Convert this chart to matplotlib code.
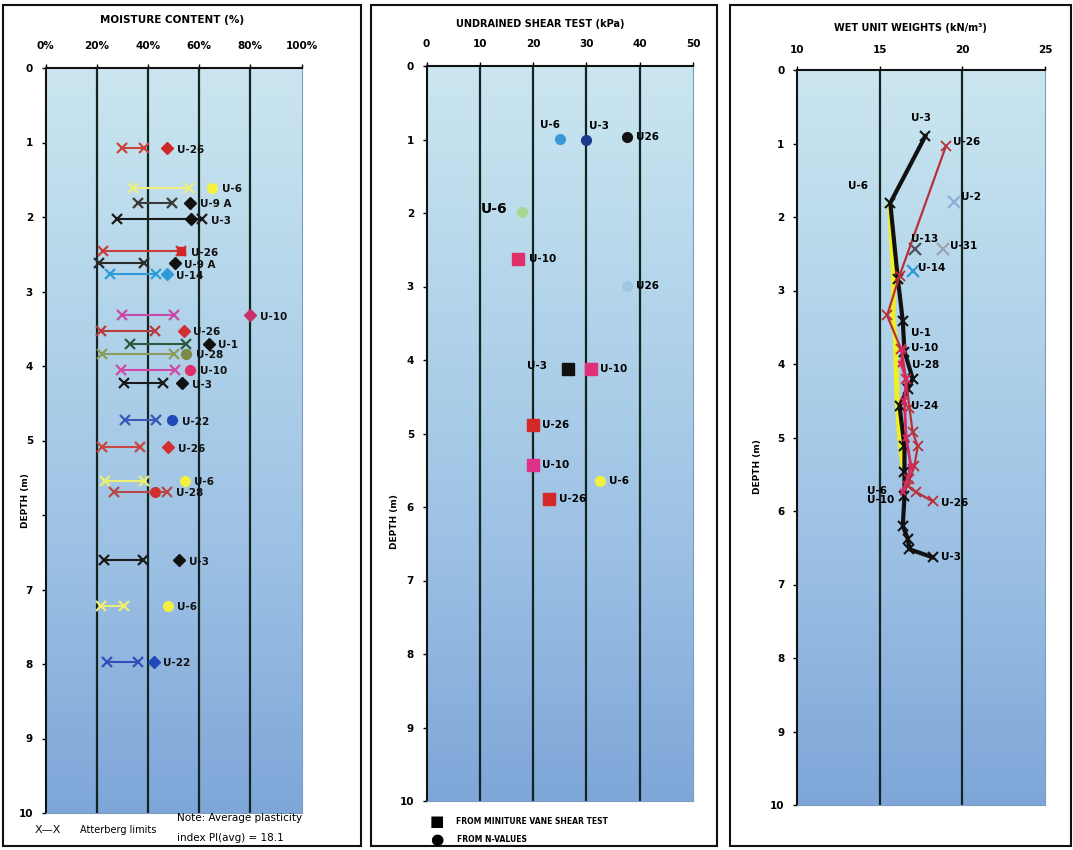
import numpy as np
import matplotlib
matplotlib.use('Agg')
import matplotlib.pyplot as plt
from matplotlib.patches import Rectangle
from matplotlib.colors import LinearSegmentedColormap

# ---------------- Moisture content panel ----------------
mc_labels = ['U-26', 'U-6', 'U-9 A', 'U-3', 'U-26', 'U-9 A', 'U-14', 'U-10', 'U-26', 'U-1',
             'U-28', 'U-10', 'U-3', 'U-22', 'U-26', 'U-6', 'U-28', 'U-3', 'U-6', 'U-22']
mc_depth = [1.08, 1.61, 1.81, 2.03, 2.46, 2.62, 2.77, 3.32, 3.53, 3.70,
            3.84, 4.05, 4.23, 4.73, 5.09, 5.54, 5.69, 6.61, 7.22, 7.97]
plastic_limit = [29.7, 34, 36, 28, 22.6, 20.8, 25, 29.7, 21.5, 33.2,
                 21.9, 29.3, 30.5, 31.2, 21.9, 23.4, 26.6, 22.7, 21.5, 24.2]
liquid_limit = [38.3, 56, 49.6, 61, 53, 38.3, 43, 50, 42.6, 54.7,
                50, 50.4, 46, 43, 37, 38.3, 47.3, 37.9, 30.5, 36]
moisture = [47.6, 65, 56.6, 57, 53, 50.4, 47.3, 80, 54, 63.7,
            55, 56.6, 53.5, 49.6, 48, 54.3, 42.6, 52.3, 47.7, 42.2]
mc_ticks = [0, 20, 40, 60, 80, 100]
mc_ticklabels = ['0%', '20%', '40%', '60%', '80%', '100%']

# ---------------- Undrained shear panel ----------------
sh_labels = ['U-6', 'U-3', 'U26', 'U-6', 'U-10', 'U26', 'U-3', 'U-10', 'U-26', 'U-10', 'U-6', 'U-26']
sh_value = [25, 30, 37.7, 18, 17.1, 37.7, 26.6, 30.8, 19.9, 19.9, 32.5, 23]
sh_depth = [0.99, 1.0, 0.97, 1.99, 2.62, 2.99, 4.12, 4.12, 4.89, 5.43, 5.64, 5.89]
sh_method = ['N', 'N', 'N', 'N', 'V', 'N', 'V', 'V', 'V', 'V', 'N', 'V']
sh_ticks = [0, 10, 20, 30, 40, 50]

# ---------------- Wet unit weight panel ----------------
u3_depth = [0.9, 1.81, 2.84, 3.42, 3.83, 4.2, 4.34, 4.57, 5.12, 5.47, 5.80, 6.2, 6.38, 6.52, 6.63]
u3_value = [17.76, 15.64, 16.1, 16.4, 16.5, 17.0, 16.7, 16.2, 16.5, 16.5, 16.5, 16.4, 16.7, 16.8, 18.2]
u6_depth = [1.81, 2.9, 3.4, 3.66, 4.07, 4.5, 4.98, 5.39]
u6_value = [15.6, 15.85, 15.8, 15.95, 16.0, 16.05, 16.2, 16.4]
u26_depth = [1.04, 2.8, 3.34, 3.8, 4.2, 4.6, 4.93, 5.12, 5.39, 5.57, 5.66, 5.74, 5.87]
u26_value = [19.0, 16.2, 15.45, 16.3, 16.6, 16.8, 17.0, 17.3, 17.1, 16.8, 16.7, 17.2, 18.2]
u10_depth = [3.8, 4.0, 4.2, 4.5, 5.0, 5.4, 5.74]
u10_value = [16.4, 16.3, 16.6, 16.5, 16.6, 16.9, 16.4]
single_labels = ['U-2', 'U-13', 'U-31', 'U-14']
single_value = [19.5, 17.15, 18.85, 17.0]
single_depth = [1.79, 2.43, 2.43, 2.73]
wu_ticks = [10, 15, 20, 25]

depth_ticks = list(range(0, 11))

# ---------------- styles ----------------
mc_line_colors = ['#c8463c', '#eeee80', '#3a3a3a', '#1a1a1a', '#c83c3c', '#2a2a2a', '#2f9ad8',
                  '#c848a8', '#b83c3c', '#2c5a40', '#8c9c5a', '#d048a8', '#1a1a1a', '#3858b8',
                  '#c84840', '#eeee70', '#b84848', '#1a1a1a', '#eeee70', '#3050b8']
mc_mk_colors = ['#d02828', '#f4f040', '#111111', '#111111', '#d02828', '#111111', '#2f9ad8',
                '#c8306a', '#d03030', '#111111', '#7c8c48', '#e0306a', '#111111', '#2048b8',
                '#d03030', '#f4f040', '#d03030', '#111111', '#f4f040', '#2048b8']
mc_mk_shapes = ['D', 'o', 'D', 'D', 's', 'D', 'D', 'D', 'D', 'D',
                'o', 'o', 'D', 'o', 'D', 'o', 'o', 'D', 'o', 'D']
sh_colors = ['#3a9ad8', '#1a3a8a', '#111111', '#a8d890', '#e0306a', '#9cc8e0',
             '#111111', '#e0307a', '#d42828', '#e0308a', '#f0f040', '#d42828']

FS_TICK = 7.5
FS_LAB = 7.5

W, H = 1073, 850
fig = plt.figure(figsize=(W / 100, H / 100), dpi=100)
fig.patch.set_facecolor('white')


def fx(px):
    return px / W


def fy(py):
    return 1 - py / H


def make_ax(x0, x1, y0, y1):
    return fig.add_axes([fx(x0), fy(y1), fx(x1) - fx(x0), fy(y0) - fy(y1)])


grad_cmap = LinearSegmentedColormap.from_list('bg', ['#cbe6f0', '#b2d4ea', '#9cc0e4', '#7ea6d8'])


def style_ax(ax, xlim, ticks, ticklabels, grid_x, ylabels, xpad):
    ax.set_xlim(*xlim)
    ax.set_ylim(10, 0)
    g = np.linspace(0, 1, 256).reshape(-1, 1)
    ax.imshow(g, extent=[xlim[0], xlim[1], 10, 0], aspect='auto', cmap=grad_cmap,
              origin='upper', zorder=0)
    for gx in grid_x:
        ax.axvline(gx, color='#142420', lw=1.6, zorder=1)
    ax.xaxis.tick_top()
    ax.set_xticks(ticks)
    ax.set_xticklabels(ticklabels, fontsize=FS_TICK, fontweight='bold')
    ax.set_yticks(depth_ticks)
    ax.set_yticklabels(ylabels, fontsize=FS_TICK, fontweight='bold')
    ax.tick_params(axis='x', length=3, width=1, pad=xpad)
    ax.tick_params(axis='y', length=3, width=1, pad=6)
    for s in ['top', 'left']:
        ax.spines[s].set_color('#111111')
        ax.spines[s].set_linewidth(1.5)
    for s in ['right', 'bottom']:
        ax.spines[s].set_color('#7d9cc4')
        ax.spines[s].set_linewidth(0.8)


# panel frames
for (x0, x1) in [(3, 361), (371, 717), (730, 1071)]:
    fig.patches.append(Rectangle((fx(x0), fy(846)), fx(x1) - fx(x0), fy(5) - fy(846),
                                 transform=fig.transFigure, fill=False, ec='#111111', lw=1.5))

# ---------------- left panel ----------------
ax1 = make_ax(45.5, 301.5, 68, 813)
left_ylabels = ['' if d == 6 else str(d) for d in depth_ticks]
style_ax(ax1, (0, 100), mc_ticks, mc_ticklabels, [20, 40, 60, 80], left_ylabels, 9)
for i in range(len(mc_labels)):
    ax1.plot([plastic_limit[i], liquid_limit[i]], [mc_depth[i], mc_depth[i]],
             color=mc_line_colors[i], lw=1.5, marker='x', ms=7, mew=1.6, zorder=3)
    ms = 6 if mc_mk_shapes[i] in ('D', 's') else 7
    ax1.plot(moisture[i], mc_depth[i], marker=mc_mk_shapes[i], color=mc_mk_colors[i],
             ms=ms, ls='none', zorder=4)
    lx = max(moisture[i], liquid_limit[i])
    ax1.annotate(mc_labels[i], (lx, mc_depth[i]), xytext=(7, -1), textcoords='offset points',
                 fontsize=FS_LAB, fontweight='bold', va='center', ha='left', color='#111111',
                 zorder=5)
ax1.set_ylabel('DEPTH (m)', fontsize=6.5, fontweight='bold')
ax1.yaxis.set_label_coords(-0.06, 0.42)
fig.text(fx(172), fy(20), 'MOISTURE CONTENT (%)', fontsize=7.5, fontweight='heavy',
         ha='center', va='center')
fig.text(fx(48), fy(830), 'X—X', fontsize=8, ha='center', va='center', color='#111111')
fig.text(fx(80), fy(830), 'Atterberg limits', fontsize=7, ha='left', va='center')
fig.text(fx(177), fy(818), 'Note: Average plasticity', fontsize=7.5, ha='left', va='center')
fig.text(fx(177), fy(838), 'index PI(avg) = 18.1', fontsize=7.5, ha='left', va='center')

# ---------------- middle panel ----------------
ax2 = make_ax(426.5, 693, 66, 801)
style_ax(ax2, (0, 50), sh_ticks, [str(t) for t in sh_ticks], [10, 20, 30, 40],
         [str(d) for d in depth_ticks], 9)
for i in range(len(sh_labels)):
    shape = 's' if sh_method[i] == 'V' else 'o'
    ms = 8 if shape == 's' else 7
    ax2.plot(sh_value[i], sh_depth[i], marker=shape, color=sh_colors[i], ms=ms,
             ls='none', zorder=4)
offsets2 = [(-14, 10), (2, 10), (6, 0), (-30, 2), (8, 0), (6, 0),
            (-30, 2), (7, 0), (7, 0), (7, 0), (7, 0), (7, 0)]
for i in range(len(sh_labels)):
    fs = 10 if i == 3 else FS_LAB
    ax2.annotate(sh_labels[i], (sh_value[i], sh_depth[i]), xytext=offsets2[i],
                 textcoords='offset points', fontsize=fs, fontweight='bold',
                 va='center', ha='left', zorder=5)
ax2.set_ylabel('DEPTH (m)', fontsize=6.5, fontweight='bold')
ax2.yaxis.set_label_coords(-0.105, 0.38)
fig.text(fx(540), fy(24), 'UNDRAINED SHEAR TEST (kPa)', fontsize=7, fontweight='heavy',
         ha='center', va='center')
fig.text(fx(437), fy(821), '■', fontsize=11, ha='center', va='center')
fig.text(fx(437), fy(839), '●', fontsize=11, ha='center', va='center')
fig.text(fx(456), fy(821), 'FROM MINITURE VANE SHEAR TEST', fontsize=5.5,
         fontweight='heavy', ha='left', va='center')
fig.text(fx(457), fy(839), 'FROM N-VALUES', fontsize=5.5, fontweight='heavy',
         ha='left', va='center')

# ---------------- right panel ----------------
ax3 = make_ax(797, 1045, 70, 805)
style_ax(ax3, (10, 25), wu_ticks, [str(t) for t in wu_ticks], [15, 20],
         [str(d) for d in depth_ticks], 8)
ax3.plot(u6_value, u6_depth, color='#f0f020', lw=3.5, zorder=3)
ax3.plot(u3_value, u3_depth, color='#111111', lw=3, marker='x', ms=7, mew=1.5, zorder=4)
ax3.plot(u26_value, u26_depth, color='#b8303a', lw=1.6, marker='x', ms=7, mew=1.3, zorder=5)
ax3.plot(u10_value, u10_depth, color='#d82860', lw=2, marker='x', ms=5, mew=1.5, zorder=5)
single_colors = ['#8ab0d8', '#505060', '#9aa6b4', '#2f9ad8']
for i in range(len(single_labels)):
    ax3.plot(single_value[i], single_depth[i], marker='x', ms=8, mew=1.6,
             color=single_colors[i], ls='none', zorder=4)
lab_kw = dict(textcoords='offset points', fontsize=7.5, fontweight='bold', va='center',
              ha='left', zorder=6)
ax3.annotate('U-3', (u3_value[0], u3_depth[0]), xytext=(-10, 13), **lab_kw)
ax3.annotate('U-26', (u26_value[0], u26_depth[0]), xytext=(5, 3), **lab_kw)
ax3.annotate('U-6', (u6_value[0], u6_depth[0]), xytext=(-30, 12), **lab_kw)
ax3.annotate('U-2', (single_value[0], single_depth[0]), xytext=(5, 3), **lab_kw)
ax3.annotate('U-13', (single_value[1], single_depth[1]), xytext=(-3, 7), **lab_kw)
ax3.annotate('U-31', (single_value[2], single_depth[2]), xytext=(5, 2), **lab_kw)
ax3.annotate('U-14', (single_value[3], single_depth[3]), xytext=(4, 2), **lab_kw)
ax3.annotate('U-1', (u3_value[4], u3_depth[4]), xytext=(5, 13), **lab_kw)
ax3.annotate('U-10', (u10_value[0], u10_depth[0]), xytext=(6, 1), **lab_kw)
ax3.annotate('U-28', (u10_value[1], u10_depth[1]), xytext=(8, -1), **lab_kw)
ax3.annotate('U-24', (u3_value[7], u3_depth[7]), xytext=(8, 0), **lab_kw)
ax3.annotate('U-6', (u10_value[-1], u10_depth[-1]), xytext=(-26, 1), **lab_kw)
ax3.annotate('U-10', (u10_value[-1], u10_depth[-1]), xytext=(-26, -6), **lab_kw)
ax3.annotate('U-26', (u26_value[-1], u26_depth[-1]), xytext=(6, -1), **lab_kw)
ax3.annotate('U-3', (u3_value[-1], u3_depth[-1]), xytext=(6, 0), **lab_kw)
ax3.set_ylabel('DEPTH (m)', fontsize=6.5, fontweight='bold')
ax3.yaxis.set_label_coords(-0.14, 0.46)
fig.text(fx(910), fy(28), 'WET UNIT WEIGHTS (kN/m³)', fontsize=7, fontweight='heavy',
         ha='center', va='center')

fig.savefig('out.png', dpi=100, facecolor='white')
